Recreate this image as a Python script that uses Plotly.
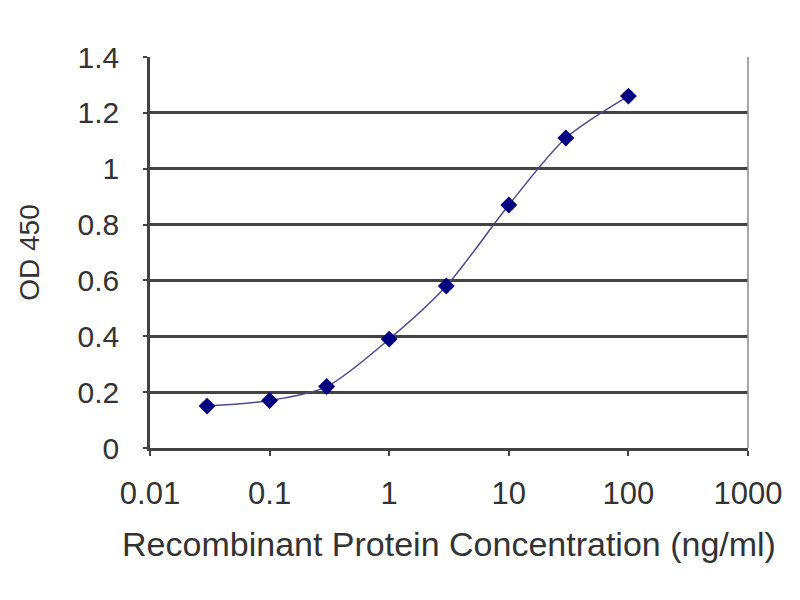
import plotly.graph_objects as go

concentration = [0.03, 0.1, 0.3, 1, 3, 10, 30, 100]
od450 = [0.15, 0.17, 0.22, 0.39, 0.58, 0.87, 1.11, 1.26]
x_ticks = [0.01, 0.1, 1, 10, 100, 1000]
x_tick_labels = ["0.01", "0.1", "1", "10", "100", "1000"]
y_ticks = [0, 0.2, 0.4, 0.6, 0.8, 1, 1.2, 1.4]
y_tick_labels = ["0", "0.2", "0.4", "0.6", "0.8", "1", "1.2", "1.4"]


def plot_elisa_curve():
    font_name = "Liberation Sans, Arial, sans-serif"
    text_color = "#333333"
    grid_color = "#424242"

    fig = go.Figure()
    fig.add_trace(go.Scatter(
        x=concentration, y=od450, mode="lines+markers",
        line=dict(color="#4b4b8c", width=1.5, shape="spline", smoothing=0.8),
        marker=dict(symbol="diamond", size=13, color="#000080"),
        showlegend=False,
    ))

    fig.update_xaxes(
        type="log", range=[-2, 3],
        tickvals=x_ticks, ticktext=x_tick_labels,
        ticks="outside", ticklen=5, tickwidth=2, tickcolor=grid_color,
        showline=True, linewidth=2.5, linecolor=grid_color,
        showgrid=False, zeroline=False, mirror=False,
        tickfont=dict(size=31, color=text_color, family=font_name),
        ticklabelstandoff=11,
        title=dict(text="Recombinant Protein Concentration (ng/ml)",
                   font=dict(size=34, color=text_color, family=font_name),
                   standoff=23),
    )
    fig.update_yaxes(
        range=[0, 1.4],
        tickvals=y_ticks, ticktext=y_tick_labels,
        ticks="outside", ticklen=4, tickwidth=2, tickcolor=grid_color,
        showline=True, linewidth=2.5, linecolor=grid_color,
        showgrid=True, gridcolor=grid_color, gridwidth=2.5,
        zeroline=False,
        tickfont=dict(size=30, color=text_color, family=font_name),
        ticklabelstandoff=18,
        title=dict(text="OD 450",
                   font=dict(size=28, color=text_color, family=font_name),
                   standoff=30),
    )

    # light right border like the original plot frame
    fig.add_shape(type="line", xref="paper", yref="paper",
                  x0=1, x1=1, y0=0, y1=1,
                  line=dict(color="#8a8a8a", width=1.5))

    fig.update_layout(
        width=800, height=600,
        margin=dict(l=142, r=60, t=49, b=160),
        plot_bgcolor="white", paper_bgcolor="white",
    )
    fig.write_html("out.html")


if __name__ == "__main__":
    plot_elisa_curve()
